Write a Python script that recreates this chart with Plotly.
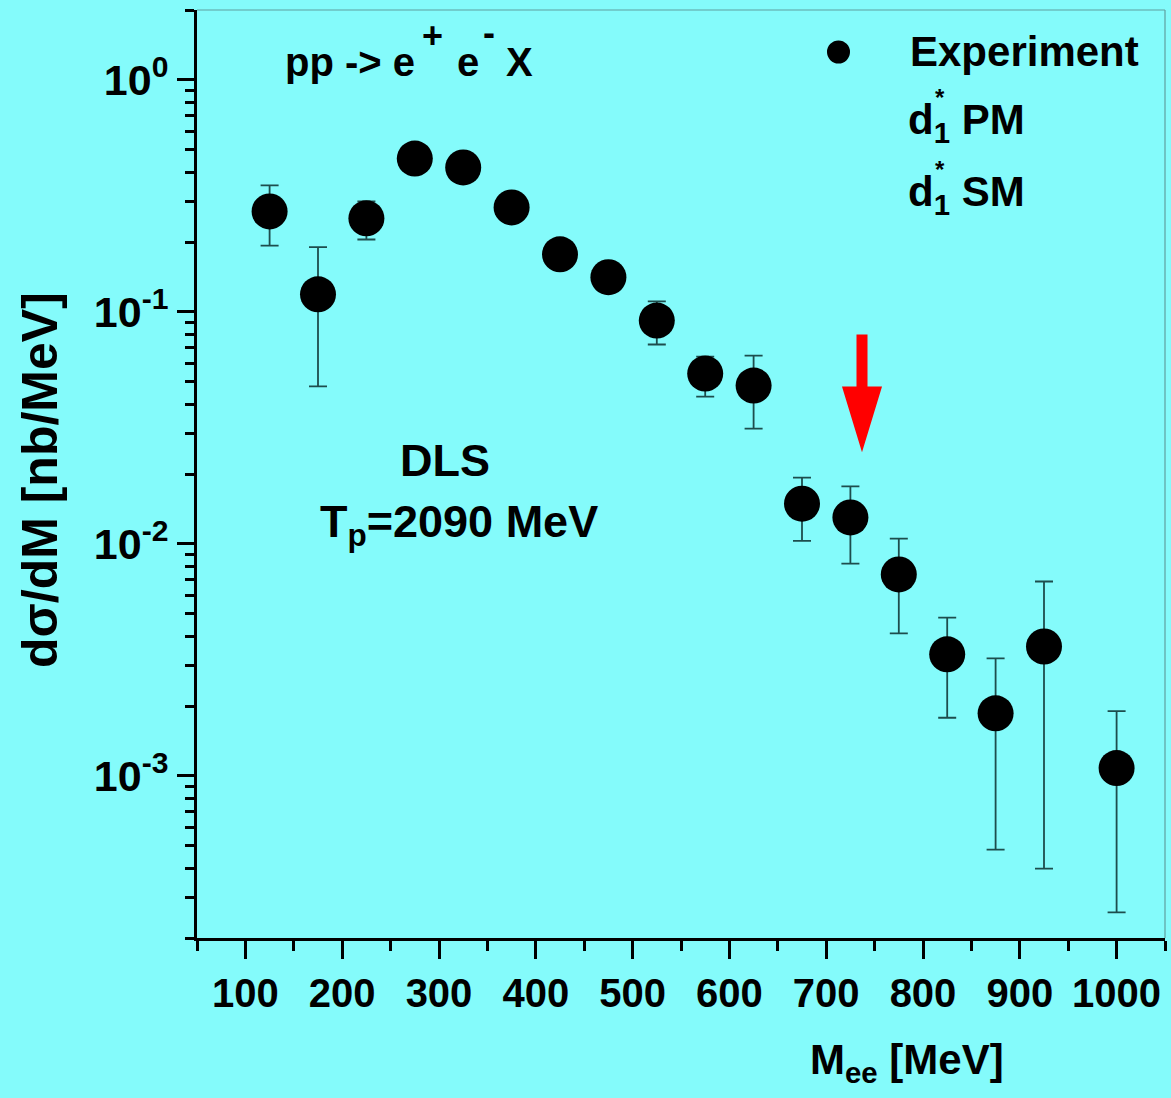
import plotly.graph_objects as go

# ---------------- data ----------------
mass = [125, 175, 225, 275, 325, 375, 425, 475, 525, 575, 625, 675, 725, 775, 825, 875, 925, 1000]
dsig = [0.271, 0.119, 0.253, 0.458, 0.419, 0.282, 0.177, 0.141, 0.0917, 0.0542, 0.0481,
        0.0149, 0.0130, 0.00738, 0.00334, 0.00186, 0.00361, 0.00108]
dsig_upper = [0.351, 0.190, 0.299, 0.470, 0.430, 0.290, 0.182, 0.145, 0.111, 0.0641, 0.0648,
              0.0193, 0.0177, 0.01054, 0.00481, 0.00321, 0.00688, 0.00190]
dsig_lower = [0.193, 0.0477, 0.205, 0.446, 0.408, 0.274, 0.172, 0.137, 0.0723, 0.0431, 0.0314,
              0.0103, 0.00822, 0.00411, 0.00178, 0.000481, 0.000398, 0.000258]

x_tick_vals = [100, 200, 300, 400, 500, 600, 700, 800, 900, 1000]
x_tick_text = ["100", "200", "300", "400", "500", "600", "700", "800", "900", "1000"]
x_minor_vals = [50, 150, 250, 350, 450, 550, 650, 750, 850, 950, 1050]
y_tick_vals = [1, 0.1, 0.01, 0.001]
y_tick_text = ["10<sup>0</sup>", "10<sup>-1</sup>", "10<sup>-2</sup>", "10<sup>-3</sup>"]
y_minor_vals = [m * 10.0 ** e for e in range(-4, 1) for m in range(2, 10)]
y_minor_vals = [v for v in y_minor_vals if 2e-4 <= v <= 2]

# ---------------- layout helpers ----------------
W, H = 1171, 1098
ML, MR, MT, MB = 197, 6, 10, 160
PW, PH = W - ML - MR, H - MT - MB


def px(xp):
    return (xp - ML) / PW


def py(yp):
    return (MT + PH - yp) / PH


BG = "#84FBFB"
FONT = "Liberation Sans, Arial, sans-serif"

err_plus = [u - v for u, v in zip(dsig_upper, dsig)]
err_minus = [v - l for v, l in zip(dsig, dsig_lower)]

fig = go.Figure()
fig.add_trace(go.Scatter(
    x=mass, y=dsig, mode="markers", name="Experiment",
    marker=dict(size=36, color="black", symbol="circle"),
    error_y=dict(type="data", symmetric=False, array=err_plus, arrayminus=err_minus,
                 color="#1d4d4d", thickness=1.8, width=9),
    showlegend=False,
))

annotations = []


def txt(text, xp, yp, size=42, xanchor="left", yanchor="middle", angle=0):
    annotations.append(dict(
        text=text, x=px(xp), y=py(yp), xref="paper", yref="paper",
        xanchor=xanchor, yanchor=yanchor, showarrow=False, textangle=angle,
        font=dict(family=FONT, size=size, color="black", weight="bold"),
    ))


# reaction label, pieces placed like the original (large raised charges)
txt("pp -> e", 283, 62, size=40)
txt("+", 420, 35, size=36)
txt("e", 455, 62, size=40)
txt("-", 481, 33, size=36)
txt("X", 504, 62, size=40)

txt("Experiment", 908, 52)
txt("d<sub>1</sub> PM", 906, 122)
txt("*", 933, 97, size=24)
txt("d<sub>1</sub> SM", 906, 194)
txt("*", 933, 169, size=24)
txt("DLS", 445, 460, size=45, xanchor="center")
txt("T<sub>p</sub>=2090 MeV", 318, 524, size=45)
txt("dσ/dM [nb/MeV]", 40, 480, size=50, xanchor="center", angle=-90)
txt("M<sub>ee</sub> [MeV]", 808, 1062)

shapes = [
    # thin top / right frame
    dict(type="line", xref="paper", yref="paper", x0=0, x1=1, y0=1, y1=1,
         line=dict(color="#5f9f9f", width=1.2)),
    dict(type="line", xref="paper", yref="paper", x0=1, x1=1, y0=0, y1=1,
         line=dict(color="#5f9f9f", width=1.2)),
    # legend marker
    dict(type="circle", xref="paper", yref="paper",
         x0=px(827), x1=px(850), y0=py(63.5), y1=py(40.5),
         fillcolor="black", line=dict(color="black", width=0)),
]

# red arrow
ax_c = 862
arrow_pts = [(ax_c - 4, 336), (ax_c + 4, 336), (ax_c + 4, 388), (ax_c + 18, 388),
             (ax_c, 447), (ax_c - 18, 388), (ax_c - 4, 388)]
path = "M " + " L ".join(f"{px(a):.5f},{py(b):.5f}" for a, b in arrow_pts) + " Z"
shapes.append(dict(type="path", xref="paper", yref="paper", path=path,
                   fillcolor="#ff0000", line=dict(color="#ff0000", width=3)))

fig.update_layout(
    width=W, height=H,
    margin=dict(l=ML, r=MR, t=MT, b=MB, pad=0),
    paper_bgcolor=BG, plot_bgcolor=BG,
    font=dict(family=FONT, color="black"),
    annotations=annotations, shapes=shapes,
    showlegend=False,
)

fig.update_xaxes(
    range=[50, 1050], showgrid=False, zeroline=False,
    showline=True, linecolor="black", linewidth=3,
    tickmode="array", tickvals=x_tick_vals, ticktext=x_tick_text,
    ticks="outside", ticklen=18, tickwidth=3, tickcolor="black",
    tickfont=dict(family=FONT, size=40, color="black", weight="bold"),
    minor=dict(tickmode="array", tickvals=x_minor_vals, ticks="outside",
               ticklen=10, tickwidth=3, tickcolor="black", showgrid=False),
)
fig.update_yaxes(
    type="log", range=[-3.69897, 0.30103], showgrid=False, zeroline=False,
    showline=True, linecolor="black", linewidth=3,
    tickmode="array", tickvals=y_tick_vals, ticktext=y_tick_text,
    ticks="outside", ticklen=17, tickwidth=3, tickcolor="black",
    tickfont=dict(family=FONT, size=43, color="black", weight="bold"),
    minor=dict(tickmode="array", tickvals=y_minor_vals, ticks="outside",
               ticklen=9, tickwidth=3, tickcolor="black", showgrid=False),
)

fig.write_html("out.html")
